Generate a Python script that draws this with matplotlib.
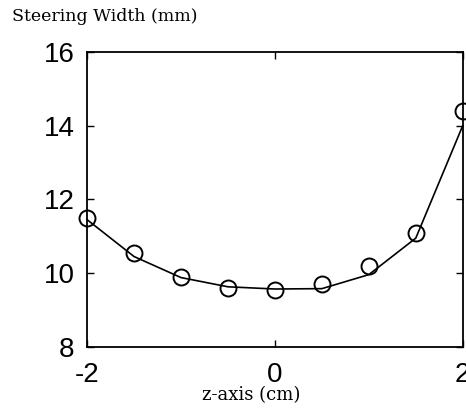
import matplotlib.pyplot as plt

z_cm = [-2, -1.5, -1, -0.5, 0, 0.5, 1, 1.5, 2]
width_measured = [11.5, 10.55, 9.9, 9.6, 9.55, 9.7, 10.2, 11.1, 14.4]
width_fit = [11.45, 10.45, 9.88, 9.63, 9.57, 9.58, 9.96, 10.95, 14.0]

xticks = [-2, 0, 2]
xticklabels = ['-2', '0', '2']
yticks = [8, 10, 12, 14, 16]

fig = plt.figure(figsize=(4.66, 4.12), dpi=100)
ax = fig.add_axes([0.187, 0.158, 0.806, 0.716])

ax.plot(z_cm, width_fit, color='black', lw=1.2, clip_on=False)
ax.plot(z_cm, width_measured, 'o', mfc='none', mec='black', ms=11.5, mew=1.4,
        clip_on=False)

ax.set_xlim(-2, 2)
ax.set_ylim(8, 16)
ax.set_xticks(xticks, xticklabels)
ax.set_yticks(yticks)
ax.tick_params(direction='in', length=5, width=1, top=True, right=True,
               labelsize=20)
ax.tick_params(axis='x', pad=11)
ax.tick_params(axis='y', pad=9)
for lab in ax.get_xticklabels() + ax.get_yticklabels():
    lab.set_family('Liberation Sans')
for s in ax.spines.values():
    s.set_linewidth(1.3)

fig.text(0.026, 0.959, 'Steering Width (mm)', family='DejaVu Serif',
         fontsize=12.5, ha='left', va='center')
fig.text(0.539, 0.041, 'z-axis (cm)', family='DejaVu Serif',
         fontsize=13, ha='center', va='center')

fig.savefig('out.png', dpi=100)
